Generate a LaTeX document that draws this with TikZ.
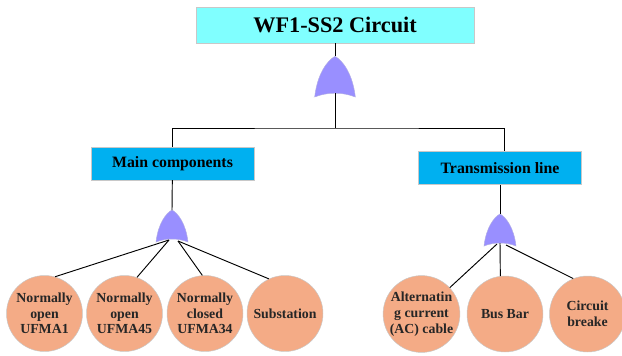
\documentclass[tikz,border=0pt]{standalone}
\usepackage{fontspec}
\setmainfont{Liberation Serif}
\usetikzlibrary{positioning, calc}

\definecolor{topcyan}{HTML}{80FFFF}
\definecolor{boxblue}{HTML}{00B0F0}
\definecolor{gatepurple}{RGB}{153,143,255}
\definecolor{eventsalmon}{RGB}{244,171,134}
\definecolor{edgegray}{RGB}{200,200,200}

% OR gate, drawn upwards from the middle of its base
\tikzset{
  orgate/.pic={
    \fill[gatepurple, draw=gatepurple!70!gray!70, line width=0.4pt]
      (-16,0) .. controls (-14,-18) and (-6,-29) .. (0,-32)
      .. controls (6,-29) and (14,-18) .. (16,0)
      .. controls (6,-4) and (-6,-4) .. cycle;
    \coordinate (-top) at (0,-32);
    \coordinate (-bot) at (0,-3);
    \coordinate (-l) at (-3,-2);
    \coordinate (-r) at (6,-1);
  }
}

\begin{document}
\begin{tikzpicture}[x=0.03cm, y=-0.03cm,
                topbox/.style={rectangle, draw=edgegray, fill=topcyan, minimum width=8.34cm, minimum height=1.08cm, font=\fontsize{19}{22}\selectfont\bfseries},
                midbox/.style={rectangle, draw=edgegray, fill=boxblue, minimum width=4.9cm, minimum height=0.98cm, font=\fontsize{13.5}{16}\selectfont\bfseries},
                event/.style={circle, draw=edgegray, fill=eventsalmon, minimum size=2.28cm, inner sep=0pt, align=center, text=black!85, font=\fontsize{11.8}{13.4}\selectfont\bfseries},
                link/.style={draw=black, line width=0.8pt}]
                \useasboundingbox (0,0) rectangle (622,355);

                \node[topbox] (wf) at (335,25) {WF1-SS2 Circuit};
                \node[midbox] (mc) at (172.5,163.5) {Main components};
                \node[midbox] (tl) at (500,168) {Transmission line};

                \node[event] (c1) at (44.5,313.5) {Normally\\open\\UFMA1};
                \node[event] (c2) at (124.5,313.5) {Normally\\open\\UFMA45};
                \node[event] (c3) at (205,313.5) {Normally\\closed\\UFMA34};
                \node[event] (c4) at (285,313.5) {Substation};
                \node[event] (c5) at (421.5,314) {Alternatin\\g current\\(AC) cable};
                \node[event] (c6) at (505,314) {Bus Bar};
                \node[event] (c7) at (587.5,314) {Circuit\\breake};

                \pic[scale=1.27] (g0) at (335,97) {orgate};
                \pic (g1) at (172,242) {orgate};
                \pic (g2) at (500,246) {orgate};

                \coordinate (j) at (335,128);
                \draw[link] (wf) -- (g0-top);
                \draw[link] (g0-bot) -- (j);
                \draw[link] (mc.north) |- (j) -| ($(tl.north)+(4,0)$);
                \draw[link] (mc) -- (g1-top);
                \draw[link] (tl) -- (g2-top);

                \draw[link] (g1-l) -- (c1.74);
                \draw[link] (g1-l) -- (c2.71);
                \draw[link] (g1-r) -- (c3.94);
                \draw[link] (g1-r) -- (c4.115);
                \draw[link] (g2-l) -- (c5.43);
                \draw[link] (g2-bot) -- (c6.97);
                \draw[link] (g2-r) -- (c7.112);
\end{tikzpicture}
\end{document}
